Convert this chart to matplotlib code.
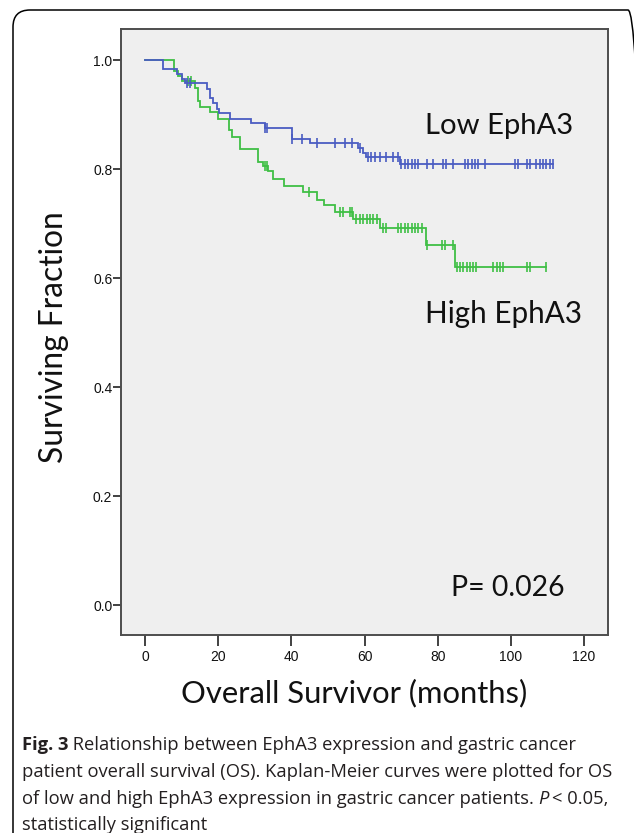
import numpy as np
import matplotlib
matplotlib.use("Agg")
import matplotlib.pyplot as plt
from matplotlib import font_manager
from matplotlib.patches import FancyBboxPatch
from matplotlib.transforms import IdentityTransform

# ---------------- data ----------------
low_event_times = [5.0, 8.7, 10.0, 10.9, 17.0, 17.8, 18.7, 19.8, 20.3, 23.2, 29.1,
                   32.8, 40.3, 45.1, 58.3, 59.6, 60.5, 69.7]
low_event_surv = [0.983, 0.975, 0.966, 0.957, 0.946, 0.930, 0.921, 0.911, 0.903, 0.892,
                  0.884, 0.875, 0.856, 0.847, 0.838, 0.830, 0.823, 0.809]
low_censor_times = [11.5, 12.3, 32.8, 33.4, 40.3, 43.0, 46.9, 51.9, 54.6, 56.5, 58.9,
                    61.0, 61.9, 62.8, 64.2, 66.0, 67.8, 69.2, 70.1, 71.0, 71.9, 72.9,
                    73.8, 74.7, 77.0, 78.8, 81.5, 82.4, 84.2, 87.4, 88.3, 89.3, 90.2,
                    91.1, 92.9, 101.1, 102.0, 104.3, 105.2, 107.0, 107.9, 108.8, 109.7,
                    110.7, 111.6]

high_event_times = [8.0, 9.0, 10.2, 13.7, 14.6, 15.0, 17.8, 20.0, 23.0, 23.7, 26.0,
                    31.0, 32.3, 33.7, 35.1, 38.0, 43.1, 46.9, 48.9, 51.9, 56.9, 64.2,
                    76.8, 84.7]
high_event_surv = [0.980, 0.970, 0.961, 0.948, 0.925, 0.914, 0.905, 0.891, 0.872, 0.859,
                   0.836, 0.813, 0.806, 0.797, 0.781, 0.769, 0.757, 0.744, 0.734, 0.722,
                   0.709, 0.691, 0.661, 0.621]
high_censor_times = [11.7, 12.6, 32.8, 33.4, 44.9, 53.3, 54.2, 56.0, 56.5, 57.8, 58.7,
                     59.6, 60.6, 61.5, 62.4, 63.3, 65.1, 66.0, 69.2, 70.1, 71.0, 71.9,
                     72.9, 73.8, 74.7, 75.6, 77.0, 81.1, 82.0, 84.2, 85.2, 86.1, 87.0,
                     87.9, 88.8, 89.7, 90.6, 95.2, 96.1, 97.0, 97.9, 104.3, 105.2, 109.7]

x_ticks = [0, 20, 40, 60, 80, 100, 120]
y_ticks = [0.0, 0.2, 0.4, 0.6, 0.8, 1.0]
label_low = "Low EphA3"
label_high = "High EphA3"
p_text = "P= 0.026"
x_label = "Overall Survivor (months)"
y_label = "Surviving Fraction"
caption_lines = [
    [("Fig. 3", "bold", "normal"),
     (" Relationship between EphA3 expression and gastric cancer", "normal", "normal")],
    [("patient overall survival (OS). Kaplan-Meier curves were plotted for OS", "normal", "normal")],
    [("of low and high EphA3 expression in gastric cancer patients. ", "normal", "normal"),
     ("P", "normal", "italic"),
     ("\u2009< 0.05,", "normal", "normal")],
    [("statistically significant", "normal", "normal")],
]

# ---------------- styling ----------------
W, H = 634, 833
BLUE = "#4a5cc2"
GREEN = "#3fbf45"
TXT = "#111111"
CAP = "#231f20"


def has_font(name):
    try:
        font_manager.findfont(font_manager.FontProperties(family=name),
                              fallback_to_default=False)
        return True
    except Exception:
        return False


LABEL_FONT = "Lato" if has_font("Lato") else "DejaVu Sans"
CAP_FONT = "Open Sans" if has_font("Open Sans") else "DejaVu Sans"
if has_font("Liberation Sans Narrow"):
    TICK_FONT, TICK_SIZE = "Liberation Sans Narrow", 11
else:
    TICK_FONT, TICK_SIZE = "Liberation Sans", 10

fig = plt.figure(figsize=(W / 100, H / 100), dpi=100)
fig.patch.set_facecolor("white")
renderer = fig.canvas.get_renderer()


def fx(px):
    return px / W


def fy(py):
    return 1 - py / H


def fit(text, family, target, weight="normal", style="normal", base=20.0):
    t = fig.text(0, 0, text, fontsize=base, family=family, weight=weight, style=style)
    w = t.get_window_extent(renderer).width
    t.remove()
    return base * target / w


# outer rounded border (open at bottom / right edge)
fig.add_artist(FancyBboxPatch((13, -60), 645 - 13, (H - 10) + 60,
                              boxstyle="round,pad=0,rounding_size=17",
                              transform=IdentityTransform(), fill=False,
                              ec="black", lw=1.1))

# ---------------- axes ----------------
ax = fig.add_axes([fx(121), fy(635), (608 - 121) / W, (635 - 29) / H])
ax.set_facecolor("#efefef")
ax.set_xlim(-6.56, 126.56)
ax.set_ylim(-0.055, 1.057)
for s in ax.spines.values():
    s.set_color("#4d4d4d")
    s.set_linewidth(1.4)


def km_draw(ev_t, ev_s, cens_t, color):
    ev_t = np.asarray(ev_t, float)
    ev_s = np.asarray(ev_s, float)
    cens_t = np.asarray(cens_t, float)
    end = max(cens_t.max(), ev_t.max())
    xs = np.concatenate([[0.0], ev_t, [end]])
    ys = np.concatenate([[1.0], ev_s, [ev_s[-1]]])
    ax.step(xs, ys, where="post", color=color, lw=1.3, solid_joinstyle="miter")
    idx = np.searchsorted(ev_t, cens_t, side="right") - 1
    lev = np.where(idx >= 0, ev_s[np.clip(idx, 0, None)], 1.0)
    ax.plot(cens_t, lev, ls="none", marker="|", ms=7, mew=1.2, color=color)


km_draw(high_event_times, high_event_surv, high_censor_times, GREEN)
km_draw(low_event_times, low_event_surv, low_censor_times, BLUE)

ax.set_xticks(x_ticks)
ax.set_xticklabels([str(v) for v in x_ticks])
ax.set_yticks(y_ticks)
ax.set_yticklabels(["%.1f" % v for v in y_ticks])
ax.tick_params(axis="y", direction="out", length=5.5, width=1.3, color="#333333",
               pad=0.8, labelsize=TICK_SIZE, labelcolor=TXT)
ax.tick_params(axis="x", direction="out", length=8, width=1.3, color="#333333",
               pad=3.0, labelsize=TICK_SIZE, labelcolor=TXT)
for lab in ax.get_xticklabels() + ax.get_yticklabels():
    lab.set_family(TICK_FONT)

# ---------------- labels inside / around the plot ----------------
s = fit(label_low, LABEL_FONT, 148)
fig.text(fx(425), fy(134), label_low, family=LABEL_FONT, fontsize=s, color=TXT,
         ha="left", va="baseline")
s = fit(label_high, LABEL_FONT, 157)
fig.text(fx(425), fy(323), label_high, family=LABEL_FONT, fontsize=s, color=TXT,
         ha="left", va="baseline")
s = fit(p_text, LABEL_FONT, 113)
fig.text(fx(451), fy(596), p_text, family=LABEL_FONT, fontsize=s, color=TXT,
         ha="left", va="baseline")

s = fit(x_label, LABEL_FONT, 348)
fig.text(fx(354), fy(693), x_label, family=LABEL_FONT, fontsize=s, color=TXT,
         ha="center", va="center")
s = fit(y_label, LABEL_FONT, 253)
fig.text(fx(54), fy(337), y_label, family=LABEL_FONT, fontsize=s, color=TXT,
         ha="center", va="center", rotation=90)

# ---------------- caption ----------------
cap_size = fit(caption_lines[1][0][0], CAP_FONT, 591)
line_y = [745, 772, 799, 825]
for segs, yb in zip(caption_lines, line_y):
    x = 22.0
    for txt, wt, st in segs:
        t = fig.text(fx(x), fy(yb + 5), txt, family=CAP_FONT, fontsize=cap_size,
                     weight=wt, style=st, color=CAP, ha="left", va="baseline")
        x += t.get_window_extent(renderer).width

fig.savefig("out.png", dpi=100, facecolor="white")
